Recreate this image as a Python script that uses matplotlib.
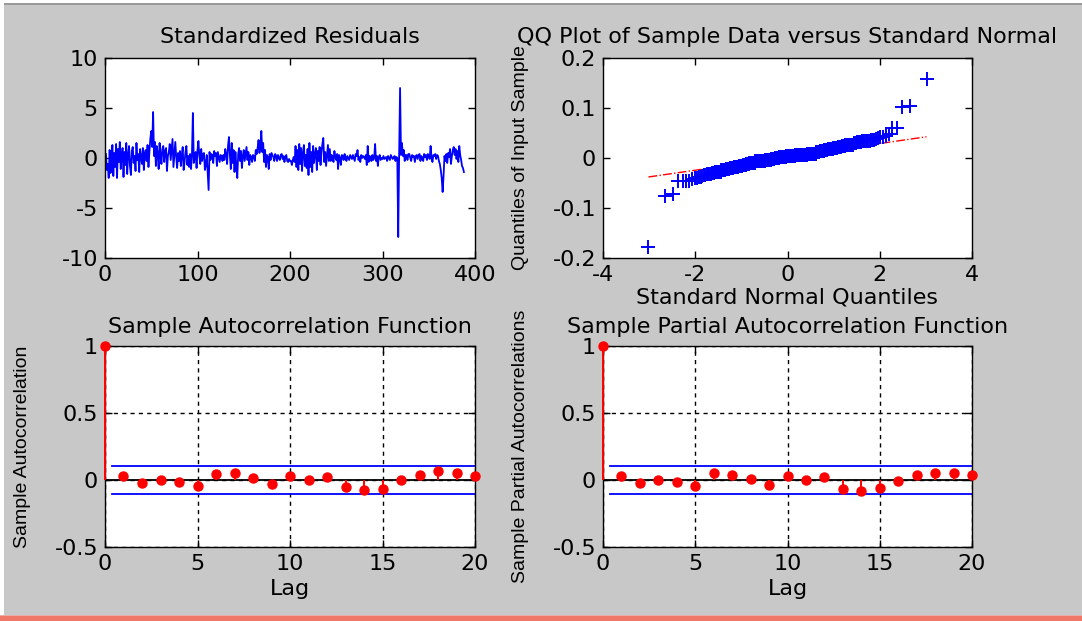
import numpy as np
import matplotlib
matplotlib.use("Agg")
import matplotlib.pyplot as plt
from matplotlib.patches import Rectangle
from statistics import NormalDist

# ---------------- data ----------------
residuals = [
    0.4, -1.2, -0.6, -2.0, 0.8, -1.5, -0.3, 1.3, -1.8, 0.5, -0.9, 1.4, -2.0, 0.9, -0.4, 1.6, -1.1, 0.2, 1.0, -1.9,
    0.6, -0.7, 1.5, -1.6, 0.3, 1.2, -0.8, -1.7, 0.7, 1.1, -0.5, 0.2, -1.3, 1.5, -0.2, 0.4, -1.4, 0.9, 0.1, -0.6,
    1.0, -1.2, 0.5, 0.8, -0.3, 1.3, -0.9, 0.6, 1.9, 2.7, 1.1, 4.6, 0.2, 1.6, -0.8, 1.2, 0.4, -1.1, 1.5, 0.3,
    -0.6, 0.9, 1.2, -0.4, 0.7, 1.0, -1.3, 0.2, 0.6, 1.4, -0.2, 0.8, 1.9, -0.9, 0.4, 1.6, 0.1, -1.0, 0.5, -0.3,
    0.7, -0.8, 0.3, 1.1, -1.2, -0.4, 0.6, 1.2, -0.7, 0.2, -0.9, 0.4, -1.1, 0.3, 4.5, -0.5, 0.1, 0.6, -1.0, 0.8,
    1.7, 0.2, -0.6, 0.9, -0.3, 0.4, 0.5, -1.2, -0.7, 0.3, -1.5, -3.2, 0.6, -0.2, 0.4, 0.3, -0.5, 0.7, 0.2, 0.5,
    -0.8, 0.6, 0.1, -0.4, 0.3, 0.2, -0.3, 0.3, -0.2, 0.9, 0.4, -0.6, 1.2, 2.1, 0.3, -1.1, 1.5, -0.5, 0.8, -1.4,
    0.6, -0.8, -2.0, 0.4, 1.0, -0.3, 0.7, -1.0, 0.2, 0.8, -0.3, 0.4, 1.1, -0.2, 0.6, -0.7, 0.3, 0.1, -0.4, 0.3,
    0.2, -0.3, 0.8, 0.4, 1.0, 1.8, 0.5, 1.2, 2.7, 0.6, 1.5, -0.4, 0.8, -0.9, 0.3, 0.1, -1.1, 0.4, -0.2, 0.5,
    0.3, 0.1, -0.3, 0.4, 0.2, -0.3, 0.3, 0.0, -0.2, 0.3, 0.4, -0.1, 0.2, -0.4, 0.1, 0.3, -0.3, -0.4, -0.1, -0.3,
    -0.3, -0.7, -0.2, 0.1, -0.4, 1.2, -0.9, 0.8, -1.2, 1.4, -0.6, 1.0, -1.3, 0.5, 1.3, -0.8, 0.3, -1.0, 0.9, -1.7,
    1.5, -0.9, 0.6, -1.4, 1.2, -0.5, 0.4, 1.0, -1.2, 0.7, -0.3, 1.1, -0.7, 0.5, 1.4, 2.0, -0.4, 0.6, -0.8, 0.3,
    1.3, -0.3, 0.9, -0.3, 0.3, 0.2, -0.4, 0.7, 0.1, -0.2, 0.4, -1.1, 0.3, 0.0, -0.7, 0.3, 0.2, -0.2, 0.4, 0.1,
    -0.3, 0.2, 0.0, -0.2, 0.3, 0.1, -0.1, 0.3, 0.0, -0.3, 0.4, 0.2, 0.8, -0.2, 0.1, -0.4, 0.3, 0.0, 0.2, 0.1,
    -0.1, 0.3, -0.7, 1.2, -0.4, 0.2, 0.1, -0.3, 0.3, -0.2, 0.0, 1.4, -0.3, 0.2, -0.8, 0.1, 0.3, -0.2, 0.0, -0.1,
    0.2, -0.1, 0.0, 0.1, -0.3, 0.2, 0.0, -0.2, 0.3, 0.1, -0.1, 0.0, 0.2, -0.3, 0.1, 0.0, -7.9, 0.4, 7.0, 0.3,
    1.5, 0.2, 0.8, -0.3, 0.3, 0.3, -0.2, 0.4, 0.4, 0.0, -0.3, 0.3, 0.1, 0.2, -0.4, 0.2, 0.3, -0.1, 0.3, 0.4,
    -0.3, 0.2, 0.0, -0.3, 0.4, 0.1, 0.3, -0.2, 0.4, 0.1, -0.1, 1.2, 0.0, -0.4, 0.3, 0.2, 0.4, -0.1, 0.3, 0.2,
    -0.3, -0.6, -1.2, -2.0, -3.4, -1.8, 0.2, -0.3, 0.4, -0.5, 0.5, 0.1, 0.9, -0.6, 0.2, 0.8, 1.1, 0.3, 0.9, -0.1,
    0.7, -0.4, 1.2, 0.3, -0.2, -0.8, -1.0, -1.4,
]
sample_scale = 0.0225   # sample data (returns) = standardized residuals * scale

lags = list(range(21))
acf_vals = [1.0, 0.03, -0.025, 0.0, -0.012, -0.045, 0.042, 0.055, 0.012, -0.032, 0.032,
            0.0, 0.022, -0.055, -0.077, -0.067, -0.002, 0.04, 0.065, 0.052, 0.03]
pacf_vals = [1.0, 0.03, -0.025, 0.0, -0.015, -0.045, 0.05, 0.04, 0.01, -0.035, 0.03,
             -0.002, 0.02, -0.067, -0.08, -0.057, -0.005, 0.04, 0.05, 0.05, 0.04]
conf_bound = 0.102

res_xticks = [0, 100, 200, 300, 400]
res_yticks = [-10, -5, 0, 5, 10]
qq_xticks = [-4, -2, 0, 2, 4]
qq_yticks = [-0.2, -0.1, 0, 0.1, 0.2]
qq_yticklabels = ["-0.2", "-0.1", "0", "0.1", "0.2"]
lag_xticks = [0, 5, 10, 15, 20]
corr_yticks = [-0.5, 0, 0.5, 1]
corr_yticklabels = ["-0.5", "0", "0.5", "1"]

# ---------------- style ----------------
plt.rcParams['font.family'] = ['DejaVu Sans']
plt.rcParams['axes.unicode_minus'] = False
FS = 16
YL_FONT = dict(family=['Liberation Sans', 'DejaVu Sans'], size=14)
BG = '#c8c8c8'

W, H = 1082, 621
fig = plt.figure(figsize=(W / 100, H / 100), dpi=100, facecolor=BG)

def rect(l, t, r, b):
    return [l / W, 1 - b / H, (r - l) / W, (b - t) / H]

# frame decorations (window edges)
fig.patches.append(Rectangle((0, 1 - 3 / H), 1, 3 / H, transform=fig.transFigure,
                             facecolor='white', edgecolor='none', zorder=0))
fig.patches.append(Rectangle((0, 1 - 4.5 / H), 1, 1.5 / H, transform=fig.transFigure,
                             facecolor='#9a9a9a', edgecolor='none', zorder=0))
fig.patches.append(Rectangle((0, 0), 4 / W, 1, transform=fig.transFigure,
                             facecolor='white', edgecolor='none', zorder=0))
fig.patches.append(Rectangle((0, 0), 1, 5 / H, transform=fig.transFigure,
                             facecolor='#f07868', edgecolor='none', zorder=0))
fig.patches.append(Rectangle((0, 5 / H), 1, 1 / H, transform=fig.transFigure,
                             facecolor='#e8b0a8', edgecolor='none', zorder=0))

def style(ax):
    ax.set_facecolor('white')
    for s in ax.spines.values():
        s.set_color('black')
        s.set_linewidth(1.0)
    ax.tick_params(direction='in', top=True, right=True, length=5, width=1,
                   labelsize=FS, pad=5, colors='black')

# ---- Standardized residuals ----
ax1 = fig.add_axes(rect(105, 58, 475, 258))
style(ax1)
x_idx = np.arange(1, len(residuals) + 1)
ax1.plot(x_idx, residuals, color='#0000ff', lw=1.3)
ax1.set_xlim(0, 400)
ax1.set_ylim(-10, 10)
ax1.set_xticks(res_xticks)
ax1.set_yticks(res_yticks)
ax1.set_title('Standardized Residuals', fontsize=FS, pad=10.5)

# ---- QQ plot ----
ax2 = fig.add_axes(rect(603, 58, 972, 258))
style(ax2)
sample = np.sort(np.array(residuals) * sample_scale)
n = len(sample)
nd = NormalDist()
zq = np.array([nd.inv_cdf((i - 0.5) / n) for i in range(1, n + 1)])
q1, q3 = np.percentile(sample, [25, 75])
z1, z3 = nd.inv_cdf(0.25), nd.inv_cdf(0.75)
slope = (q3 - q1) / (z3 - z1)
xl = np.array([zq.min(), zq.max()])
ax2.plot(xl, q1 + slope * (xl - z1), color='red', ls='-.', lw=1.0, zorder=2)
ax2.plot(zq, sample, ls='none', marker='+', color='#0000ff', ms=9.5, mew=1.4, zorder=3)
ax2.set_xlim(-4, 4)
ax2.set_ylim(-0.2, 0.2)
ax2.set_xticks(qq_xticks)
ax2.set_yticks(qq_yticks)
ax2.set_yticklabels(qq_yticklabels)
ax2.set_title('QQ Plot of Sample Data versus Standard Normal', fontsize=FS, pad=10.5)
ax2.set_xlabel('Standard Normal Quantiles', fontsize=FS)
ax2.set_ylabel('Quantiles of Input Sample', fontdict=YL_FONT)
ax2.xaxis.set_label_coords(0.5, -0.145)
ax2.yaxis.set_label_coords(-0.20, 0.5)

# ---- ACF / PACF ----
def corr_plot(ax, vals, title, ylabel):
    style(ax)
    ax.grid(True, color='black', ls=(0, (3, 3)), lw=1.0)
    ax.set_axisbelow(True)
    ax.axhline(0, color='black', lw=1.3, zorder=2)
    ax.plot([0.4, 20], [conf_bound, conf_bound], color='#0000ff', lw=1.3, zorder=3)
    ax.plot([0.4, 20], [-conf_bound, -conf_bound], color='#0000ff', lw=1.3, zorder=3)
    ml, sl, bl = ax.stem(lags, vals, linefmt='r-', markerfmt='ro', basefmt=' ')
    sl.set_linewidth(1.4)
    sl.set_zorder(4)
    sl.set_clip_on(False)
    ml.set_markersize(6.5)
    ml.set_zorder(5)
    ml.set_clip_on(False)
    ax.set_xlim(0, 20)
    ax.set_ylim(-0.5, 1)
    ax.set_xticks(lag_xticks)
    ax.set_yticks(corr_yticks)
    ax.set_yticklabels(corr_yticklabels)
    ax.set_title(title, fontsize=FS, pad=9.5)
    ax.set_xlabel('Lag', fontsize=FS)
    ax.set_ylabel(ylabel, fontdict=YL_FONT)
    ax.xaxis.set_label_coords(0.5, -0.16)
    ax.yaxis.set_label_coords(-0.20, 0.5)

ax3 = fig.add_axes(rect(105, 346, 475, 547))
corr_plot(ax3, acf_vals, 'Sample Autocorrelation Function', 'Sample Autocorrelation')
ax4 = fig.add_axes(rect(603, 346, 972, 547))
corr_plot(ax4, pacf_vals, 'Sample Partial Autocorrelation Function', 'Sample Partial Autocorrelations')

fig.savefig('out.png', dpi=100, facecolor=BG)
